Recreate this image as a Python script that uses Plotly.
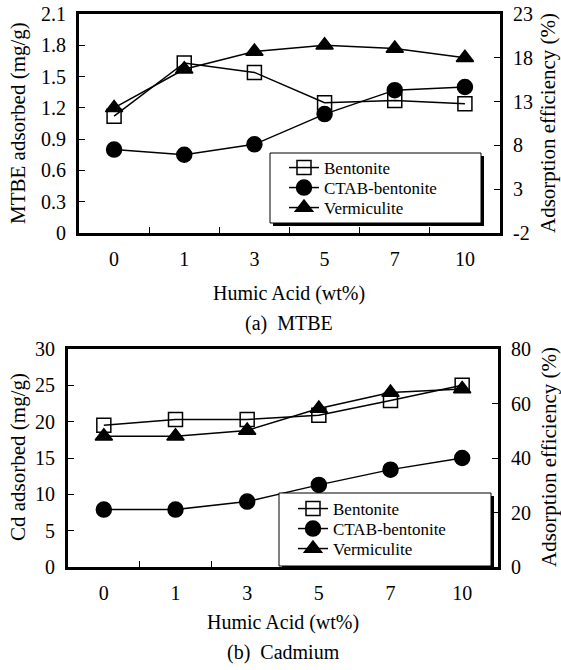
import plotly.graph_objects as go

# ---------------- data ----------------
humic = ["0", "1", "3", "5", "7", "10"]
series_names = ["Bentonite", "CTAB-bentonite", "Vermiculite"]

mtbe_bentonite = [1.12, 1.63, 1.54, 1.25, 1.27, 1.24]
mtbe_ctab = [0.80, 0.75, 0.85, 1.14, 1.37, 1.40]
mtbe_verm = [1.20, 1.57, 1.74, 1.80, 1.77, 1.68]

cd_bentonite = [19.5, 20.3, 20.3, 20.9, 22.9, 25.0]
cd_ctab = [7.9, 7.9, 9.0, 11.3, 13.4, 15.0]
cd_verm = [18.0, 18.0, 18.8, 21.8, 24.0, 24.5]

mtbe_left_ticks = [0, 0.3, 0.6, 0.9, 1.2, 1.5, 1.8, 2.1]
mtbe_left_text = ["0", "0.3", "0.6", "0.9", "1.2", "1.5", "1.8", "2.1"]
mtbe_right_ticks = [-2, 3, 8, 13, 18, 23]
mtbe_right_text = ["-2", "3", "8", "13", "18", "23"]
cd_left_ticks = [0, 5, 10, 15, 20, 25, 30]
cd_right_ticks = [0, 20, 40, 60, 80]

FONT = "Liberation Serif"
W, H = 561, 670

def px(v):  # horizontal pixel -> paper
    return v / W

def py(v):  # vertical pixel (from top) -> paper
    return 1 - v / H

symbols = ["square-open", "circle", "triangle-up"]
sizes = [14, 15, 15]

fig = go.Figure()

top_data = [mtbe_bentonite, mtbe_ctab, mtbe_verm]
bot_data = [cd_bentonite, cd_ctab, cd_verm]

legend_ids = ["legend", "legend2", "legend3", "legend4", "legend5", "legend6"]

for i, (name, ys) in enumerate(zip(series_names, top_data)):
    fig.add_trace(go.Scatter(
        x=humic, y=ys, name=name, mode="lines+markers",
        line=dict(color="black", width=1.5),
        marker=dict(symbol=symbols[i], size=sizes[i], color="black",
                    line=dict(color="black", width=1.5)),
        xaxis="x", yaxis="y", legend=legend_ids[i],
    ))
for i, (name, ys) in enumerate(zip(series_names, bot_data)):
    fig.add_trace(go.Scatter(
        x=humic, y=ys, name=name, mode="lines+markers",
        line=dict(color="black", width=1.5),
        marker=dict(symbol=symbols[i], size=sizes[i], color="black",
                    line=dict(color="black", width=1.5)),
        xaxis="x2", yaxis="y3", legend=legend_ids[3 + i],
    ))

# helper traces so the right-hand axes exist
fig.add_trace(go.Scatter(x=humic, y=[None] * len(humic), xaxis="x", yaxis="y2",
                         showlegend=False, hoverinfo="skip"))
fig.add_trace(go.Scatter(x=humic, y=[None] * len(humic), xaxis="x2", yaxis="y4",
                         showlegend=False, hoverinfo="skip"))

tickfont = dict(family=FONT, size=20, color="black")

xcommon = dict(type="category", range=[-0.5, 5.5], showline=True, linewidth=3,
               linecolor="black", mirror=True, ticks="inside", ticklen=6,
               tickwidth=1, tickcolor="black", tickson="boundaries",
               tickfont=tickfont, showgrid=False, zeroline=False,
               ticklabelstandoff=6, automargin=False)
ycommon = dict(showline=True, linewidth=3, linecolor="black", ticks="inside",
               ticklen=6, tickwidth=1, tickcolor="black", tickfont=tickfont,
               showgrid=False, zeroline=False, ticklabelstandoff=6,
               automargin=False)

fig.update_layout(
    width=W, height=H,
    margin=dict(l=0, r=0, t=0, b=0, autoexpand=False),
    paper_bgcolor="white", plot_bgcolor="white",
    font=dict(family=FONT, color="black"),
    xaxis=dict(domain=[px(79), px(500)], anchor="y", **xcommon),
    yaxis=dict(domain=[py(233), py(14)], anchor="x", range=[0, 2.1],
               tickvals=mtbe_left_ticks, ticktext=mtbe_left_text, **ycommon),
    yaxis2=dict(overlaying="y", side="right", anchor="x", range=[-2, 23],
                tickvals=mtbe_right_ticks, ticktext=mtbe_right_text, **ycommon),
    xaxis2=dict(domain=[px(68), px(498)], anchor="y3", **xcommon),
    yaxis3=dict(domain=[py(567), py(349)], anchor="x2", range=[0, 30],
                tickvals=cd_left_ticks, **ycommon),
    yaxis4=dict(overlaying="y3", side="right", anchor="x2", range=[0, 80],
                tickvals=cd_right_ticks, **ycommon),
    showlegend=True,
)

# one legend per entry so that rows sit at the reference spacing
leg_font = dict(family=FONT, size=17, color="black")
top_rows = [168, 188, 208]
bot_rows = [509, 529, 549]
leg_layout = {}
for i, yy in enumerate(top_rows):
    leg_layout[legend_ids[i]] = dict(x=px(284), y=py(yy), xanchor="left",
                                     yanchor="middle", bgcolor="rgba(0,0,0,0)",
                                     borderwidth=0, font=leg_font, itemwidth=30)
for i, yy in enumerate(bot_rows):
    leg_layout[legend_ids[3 + i]] = dict(x=px(293), y=py(yy), xanchor="left",
                                         yanchor="middle", bgcolor="rgba(0,0,0,0)",
                                         borderwidth=0, font=leg_font, itemwidth=30)
fig.update_layout(**leg_layout)

# legend boxes (shadow + white box) drawn as shapes under the legend text
shapes = []
for (x0, y0, x1, y1) in [(270, 153, 481, 223), (279, 493, 491, 566)]:
    shapes.append(dict(type="rect", xref="paper", yref="paper",
                       x0=px(x0 + 3), x1=px(x1 + 3), y0=py(y1 + 3), y1=py(y0 + 3),
                       fillcolor="black", line=dict(width=0), layer="above"))
    shapes.append(dict(type="rect", xref="paper", yref="paper",
                       x0=px(x0), x1=px(x1), y0=py(y1), y1=py(y0),
                       fillcolor="white", line=dict(color="black", width=1),
                       layer="above"))
fig.update_layout(shapes=shapes)

titlefont = dict(family=FONT, size=20, color="black")
sidefont = dict(family=FONT, size=21, color="black")


def ann(text, x, y, font, angle=0):
    return dict(text=text, x=px(x), y=py(y), xref="paper", yref="paper",
                xanchor="center", yanchor="middle", showarrow=False,
                textangle=angle, font=font)


annotations = [
    ann("Humic Acid (wt%)", 289, 293, titlefont),
    ann("(a)\u00a0 MTBE", 289, 323, titlefont),
    ann("Humic Acid (wt%)", 283, 622, titlefont),
    ann("(b)\u00a0 Cadmium", 283, 652, titlefont),
    ann("MTBE adsorbed (mg/g)", 18, 123, sidefont, -90),
    ann("Adsorption efficiency (%)", 548, 123, sidefont, -90),
    ann("Cd adsorbed (mg/g)", 18, 457, sidefont, -90),
    ann("Adsorption efficiency (%)", 549, 457, sidefont, -90),
]
fig.update_layout(annotations=annotations)

fig.write_html("out.html")
